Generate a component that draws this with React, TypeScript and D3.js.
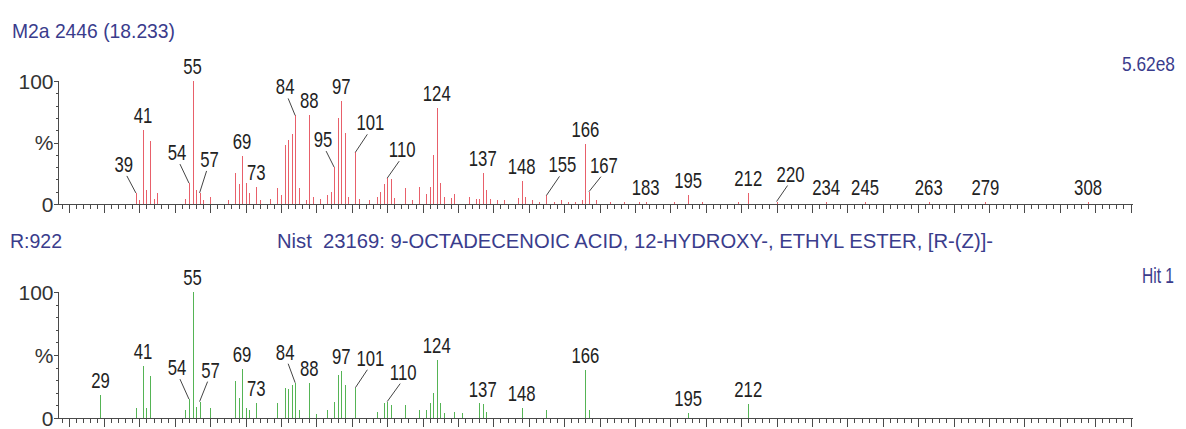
import React from "react";
import * as d3 from "d3";

// sample spectrum (top, red): m/z and relative intensity %
const sampleMz = [
  39, 40, 41, 42, 43, 44, 45, 53, 54, 55, 56, 57, 58, 60, 65, 67, 68, 69, 70, 71,
  73, 74, 77, 79, 80, 81, 82, 83, 84, 85, 87, 88, 89, 91, 93, 94, 95, 96, 97, 98,
  99, 101, 102, 105, 107, 108, 109, 110, 111, 112, 115, 117, 119, 121, 122, 123, 124, 125, 126, 128,
  129, 133, 135, 136, 137, 138, 139, 141, 143, 147, 148, 149, 151, 153, 155, 157, 159, 161, 163, 165,
  166, 167, 169, 173, 177, 181, 183, 191, 195, 199, 209, 212, 220, 234, 245, 263, 279, 308,
];
const sampleInt = [
  9, 3, 60, 11, 51, 4, 9, 4, 17, 100, 11, 9, 3, 6, 3, 25, 16, 39, 17, 9,
  14, 3, 4, 13, 7, 48, 52, 57, 72, 13, 3, 72, 6, 4, 7, 10, 30, 70, 84, 58,
  6, 42, 4, 3, 6, 10, 16, 21, 20, 5, 13, 3, 14, 8, 14, 40, 78, 17, 6, 5,
  8, 6, 4, 4, 25, 11, 4, 3, 3, 5, 19, 6, 3, 2, 7, 2, 3, 2, 2, 3,
  49, 10, 3, 2, 2, 2, 2, 2, 7, 1.5, 1.5, 9, 2, 1.5, 1.5, 1.5, 1.5, 1.5,
];

// library spectrum (bottom, green)
const libraryMz = [
  29, 39, 41, 42, 43, 53, 54, 55, 56, 57, 60, 67, 68, 69, 70, 71, 73, 79, 81, 82,
  83, 84, 85, 88, 90, 93, 95, 96, 97, 98, 101, 107, 109, 110, 111, 115, 119, 121, 122, 123,
  124, 125, 126, 129, 131, 136, 137, 138, 148, 155, 166, 167, 195, 212,
];
const libraryInt = [
  18, 8, 41, 8, 33, 6, 15, 100, 9, 13, 8, 29, 16, 39, 8, 6, 12, 12, 24, 23,
  26, 28, 6, 28, 3, 6, 13, 34, 37, 26, 24, 5, 12, 13, 10, 10, 6, 6, 12, 20,
  46, 12, 4, 5, 4, 12, 11, 5, 8, 6, 38, 6, 4, 11,
];

const sampleLabels = [
  39, 41, 54, 55, 57, 69, 73, 84, 88, 95, 97, 101, 110, 124, 137, 148, 155, 166, 167,
  183, 195, 212, 220, 234, 245, 263, 279, 308,
];
const libraryLabels = [
  29, 41, 54, 55, 57, 69, 73, 84, 88, 97, 101, 110, 124, 137, 148, 166, 195, 212,
];

// labels that sit off the peak with a leader line: [dx, dy] from the peak top
const sampleCallouts: Record<number, [number, number]> = {
  39: [-12, -21], 54: [-12, -23], 57: [10, -26], 84: [-10, -21], 95: [-11, -20],
  101: [15, -22], 110: [15, -21], 155: [16, -23], 167: [15, -19], 220: [14, -20],
};
const libraryCallouts: Record<number, [number, number]> = {
  54: [-12, -24], 57: [11, -24], 84: [-10, -23], 101: [15, -22], 110: [16, -22],
};

const W = 1186;
const H = 429;
const FONT = "'Liberation Sans', Arial, sans-serif";
const NAVY = "#3a3c8c";
const AXIS = "#4a4a4a";

const x = d3.scaleLinear().domain([17, 320.7]).range([58, 1133]);
const yTop = d3.scaleLinear().domain([0, 100]).range([204, 81]);
const yBottom = d3.scaleLinear().domain([0, 100]).range([418, 292]);

function Spectrum({ mz, intensity, labels, callouts, y, color }: any) {
  const peaks = mz.map((m: number, i: number) => ({ m, v: intensity[i] }));
  const valueAt = (m: number) => peaks.find((p: any) => p.m === m)?.v ?? 0;
  const px = (m: number) => Math.round(x(m)) + 0.5;
  const xTicks = d3.range(18, 321, 2);
  const yTicks = d3.range(0, 101, 10);
  const x0 = x.range()[0] + 0.5;
  const base = Math.round(y(0)) + 0.5;

  return (
    <g>
      {peaks.map((p: any) => (
        <line key={p.m} x1={px(p.m)} x2={px(p.m)} y1={base} y2={y(p.v)}
          stroke={color} strokeWidth={1} shapeRendering="crispEdges" />
      ))}

      {/* x axis */}
      <line x1={x0} x2={x.range()[1]} y1={base} y2={base} stroke={AXIS} shapeRendering="crispEdges" />
      {xTicks.map((t) => (
        <line key={t} x1={px(t)} x2={px(t)} y1={base} y2={base + (t % 10 === 0 ? 8 : 4)}
          stroke={AXIS} shapeRendering="crispEdges" />
      ))}

      {/* y axis */}
      <line x1={x0} x2={x0} y1={base} y2={y(100)} stroke={AXIS} shapeRendering="crispEdges" />
      {yTicks.map((t) => (
        <line key={t} x1={x0 - (t % 50 === 0 ? 5 : 3)} x2={x0} y1={Math.round(y(t)) + 0.5} y2={Math.round(y(t)) + 0.5}
          stroke={AXIS} shapeRendering="crispEdges" />
      ))}
      {[[0, "0"], [50, "%"], [100, "100"]].map(([t, s]: any) => (
        <text key={t} x={x0 - 5} y={y(t)} dy="0.36em" textAnchor="end" fontSize={21}
          fontFamily={FONT} fill="#333">{s}</text>
      ))}

      {/* peak labels */}
      {labels.map((m: number) => {
        const top = y(valueAt(m));
        const c = callouts[m];
        const lx = c ? x(m) + c[0] : x(m);
        const ly = c ? top + c[1] : top - 7;
        return (
          <g key={m}>
            {c && (
              <line x1={lx + (c[0] < 0 ? 3 : -3)} y1={ly + 4} x2={x(m)} y2={top}
                stroke="#444" strokeWidth={1} />
            )}
            <text transform={`translate(${lx},${ly}) scale(0.76,1)`} textAnchor="middle"
              fontSize={22} fontFamily={FONT} fill="#222">{m}</text>
          </g>
        );
      })}
    </g>
  );
}

export default function App() {
  const title = { fontFamily: FONT, fontSize: 21, fill: NAVY, lengthAdjust: "spacingAndGlyphs" } as any;
  return (
    <div style={{ position: "absolute", left: 0, top: 0 }}>
      <svg width={W} height={H} style={{ display: "block", background: "#fff" }}>
        <text x={12} y={38} textLength={163} {...title}>M2a 2446 (18.233)</text>
        <text x={1122} y={71} textLength={53} {...title}>5.62e8</text>
        <text x={10} y={248} textLength={52} {...title}>R:922</text>
        <text x={277} y={248} textLength={716} style={{ whiteSpace: "pre" }} {...title}>
          {"Nist  23169: 9-OCTADECENOIC ACID, 12-HYDROXY-, ETHYL ESTER, [R-(Z)]-"}
        </text>
        <text x={1142} y={283} textLength={32} {...title} fontSize={22}>Hit 1</text>

        <Spectrum mz={sampleMz} intensity={sampleInt} labels={sampleLabels}
          callouts={sampleCallouts} y={yTop} color="#e8606a" />
        <Spectrum mz={libraryMz} intensity={libraryInt} labels={libraryLabels}
          callouts={libraryCallouts} y={yBottom} color="#55b455" />
      </svg>
    </div>
  );
}
